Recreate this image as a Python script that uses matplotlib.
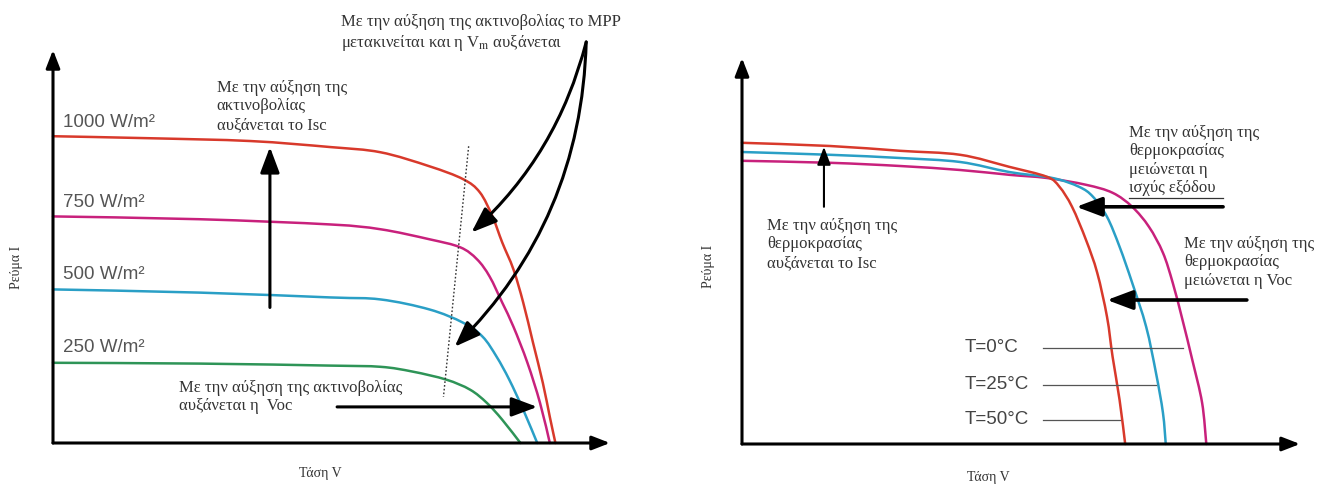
import matplotlib
matplotlib.use("Agg")
import matplotlib.pyplot as plt
from matplotlib.path import Path
from matplotlib.patches import PathPatch

# I-V curves (voltage V, current A)
irr_labels = ["1000 W/m²", "750 W/m²", "500 W/m²", "250 W/m²"]
irr_colors = ["#d8392b", "#c8217c", "#2a9fc6", "#2e9457"]

v_1000 = [0, 6.9, 14.1, 19.8, 23.4, 26.9, 29.3, 30.5, 31.4, 32.1, 32.9, 33.6, 34.3, 35.0, 35.5, 35.9]
i_1000 = [7.65, 7.60, 7.53, 7.38, 7.25, 6.90, 6.58, 6.25, 5.65, 5.00, 4.33, 3.50, 2.50, 1.50, 0.65, 0]
v_750 = [0, 10.5, 19.8, 23.4, 26.9, 29.1, 30.3, 31.2, 32.1, 32.9, 33.9, 34.8, 35.5]
i_750 = [5.65, 5.58, 5.45, 5.33, 5.08, 4.88, 4.58, 4.15, 3.50, 2.90, 2.00, 1.00, 0]
v_500 = [0, 10.5, 19.8, 23.4, 26.9, 29.3, 30.7, 31.7, 32.6, 33.6, 34.6]
i_500 = [3.83, 3.75, 3.63, 3.58, 3.33, 3.00, 2.65, 2.15, 1.58, 0.83, 0]
v_250 = [0, 10.5, 19.8, 23.4, 25.7, 28.1, 29.8, 31.0, 32.1, 33.4]
i_250 = [2.00, 1.98, 1.93, 1.90, 1.78, 1.58, 1.33, 1.00, 0.58, 0]
irr_label_i = [7.98, 6.0, 4.2, 2.38]

temp_labels = ["T=0°C", "T=25°C", "T=50°C"]
temp_colors = ["#c8217c", "#2a9fc6", "#d8392b"]
v_t0 = [0, 6.3, 11.3, 15.6, 19.1, 21.8, 24.6, 26.5, 27.9, 29.1, 30.1, 30.8, 31.5, 32.2, 32.9, 33.2]
i_t0 = [7.08, 7.03, 6.95, 6.85, 6.73, 6.65, 6.48, 6.28, 5.93, 5.43, 4.78, 4.03, 3.10, 2.10, 1.03, 0]
v_t25 = [0, 6.3, 11.3, 15.6, 19.1, 22.2, 24.1, 25.1, 26.1, 27.0, 27.9, 28.9, 29.6, 30.1, 30.3]
i_t25 = [7.30, 7.23, 7.15, 7.05, 6.80, 6.65, 6.43, 6.18, 5.68, 4.93, 4.03, 2.93, 1.78, 0.78, 0]
v_t50 = [0, 6.3, 11.3, 15.6, 19.1, 21.8, 22.7, 23.6, 24.6, 25.4, 26.1, 26.5, 27.0, 27.4]
i_t50 = [7.53, 7.45, 7.33, 7.23, 6.93, 6.68, 6.43, 5.93, 5.10, 4.28, 3.18, 2.18, 1.10, 0]
temp_label_i = [2.4, 1.48, 0.6]
temp_line_end = [31.5, 29.6, 27.0]

serif = ["Liberation Serif", "DejaVu Serif"]
sans = ["Liberation Sans", "DejaVu Sans"]
plt.rcParams["mathtext.fontset"] = "stix"
txt_col = "#333333"
fs = 12

W, H = 1339, 487
fig = plt.figure(figsize=(13.39, 4.87), dpi=100)

# axes placed where the drawn axis lines sit
ax1 = fig.add_axes([53 / W, (H - 443) / H, 557 / W, 393 / H])
ax2 = fig.add_axes([742 / W, (H - 444) / H, 558 / W, 386 / H])
ax1.set_xlim(0, 39.8)
ax1.set_ylim(0, 9.8)
ax2.set_xlim(0, 39.9)
ax2.set_ylim(0, 9.65)


def smooth_curve(ax, v, i, color):
    # draw the read points as a smooth Catmull-Rom style bezier path
    pts = list(zip(v, i))
    ext = [pts[0]] + pts + [pts[-1]]
    verts = [pts[0]]
    codes = [Path.MOVETO]
    for k in range(1, len(ext) - 2):
        p0, p1, p2, p3 = ext[k - 1], ext[k], ext[k + 1], ext[k + 2]
        c1 = (p1[0] + (p2[0] - p0[0]) / 6, p1[1] + (p2[1] - p0[1]) / 6)
        c2 = (p2[0] - (p3[0] - p1[0]) / 6, p2[1] - (p3[1] - p1[1]) / 6)
        verts += [c1, c2, p2]
        codes += [Path.CURVE4] * 3
    ax.add_patch(PathPatch(Path(verts, codes), fill=False, edgecolor=color,
                           lw=1.8, capstyle="round", clip_on=False))


def axis_arrows(ax):
    x1 = ax.get_xlim()[1]
    y1 = ax.get_ylim()[1]
    for tip in [(x1, 0), (0, y1)]:
        ax.annotate("", xy=tip, xytext=(0, 0),
                    arrowprops=dict(arrowstyle="-|>,head_length=0.9,head_width=0.35",
                                    mutation_scale=12, lw=2.2, color="black",
                                    shrinkA=0, shrinkB=0))
    ax.axis("off")


def arrow(ax, start, end, lw=2.2, scale=13, rad=0.0):
    ax.annotate("", xy=end, xytext=start,
                arrowprops=dict(arrowstyle="-|>,head_length=1.2,head_width=0.45",
                                mutation_scale=scale, lw=lw, color="black",
                                shrinkA=0, shrinkB=0,
                                connectionstyle="arc3,rad=%s" % rad))


def note(ax, x, y, s):
    ax.text(x, y, s, family=serif, fontsize=fs, color=txt_col, va="top",
            linespacing=1.2)


# left panel: irradiance
axis_arrows(ax1)
curves = [(v_1000, i_1000), (v_750, i_750), (v_500, i_500), (v_250, i_250)]
for (v, i), col, lab, li in zip(curves, irr_colors, irr_labels, irr_label_i):
    smooth_curve(ax1, v, i, col)
    ax1.text(0.7, li, lab, family=sans, fontsize=13.5, color="#555555", va="center")

ax1.plot([29.7, 27.9], [7.4, 1.15], color="#333333", lw=1.0, ls=(0, (1.2, 1.5)))
arrow(ax1, (15.5, 3.38), (15.5, 7.38))
arrow(ax1, (38.1, 10.0), (29.9, 5.25), rad=-0.15)
arrow(ax1, (38.1, 10.0), (28.7, 2.4), rad=-0.2)
arrow(ax1, (20.3, 0.9), (34.6, 0.9))

note(ax1, 11.7, 9.05, "Με την αύξηση της\nακτινοβολίας\nαυξάνεται το Isc")
note(ax1, 20.6, 10.7, "Με την αύξηση της ακτινοβολίας το MPP\n"
     "μετακινείται και η V$_{\\mathrm{m}}$ αυξάνεται")
note(ax1, 9.0, 1.57, "Με την αύξηση της ακτινοβολίας\nαυξάνεται η  Voc")
ax1.text(-2.6, 4.38, "Ρεύμα I", family=serif, fontsize=10, color=txt_col,
         rotation=90, ha="center", va="center")
ax1.text(19.1, -0.75, "Τάση V", family=serif, fontsize=10, color=txt_col,
         ha="center", va="center")

# right panel: temperature
axis_arrows(ax2)
tcurves = [(v_t0, i_t0), (v_t25, i_t25), (v_t50, i_t50)]
for (v, i), col in zip(tcurves, temp_colors):
    smooth_curve(ax2, v, i, col)
for lab, li, le in zip(temp_labels, temp_label_i, temp_line_end):
    ax2.text(15.9, li, lab, family=sans, fontsize=13.5, color="#444444", va="center")
    ax2.plot([21.5, le], [li, li], color="#555555", lw=0.9)

arrow(ax2, (5.86, 5.93), (5.86, 7.43), lw=1.5, scale=9)
arrow(ax2, (34.4, 5.93), (23.9, 5.93), lw=2.6)
arrow(ax2, (36.1, 3.6), (26.1, 3.6), lw=2.6)
ax2.plot([27.7, 34.4], [6.15, 6.15], color="#333333", lw=0.9)

note(ax2, 1.8, 5.65, "Με την αύξηση της\nθερμοκρασίας\nαυξάνεται το Isc")
note(ax2, 27.7, 7.98, "Με την αύξηση της\nθερμοκρασίας\nμειώνεται η\nισχύς εξόδου")
note(ax2, 31.6, 5.2, "Με την αύξηση της\nθερμοκρασίας\nμειώνεται η Voc")
ax2.text(-2.4, 4.43, "Ρεύμα I", family=serif, fontsize=10, color=txt_col,
         rotation=90, ha="center", va="center")
ax2.text(17.6, -0.83, "Τάση V", family=serif, fontsize=10, color=txt_col,
         ha="center", va="center")

fig.savefig("out.png", dpi=100, facecolor="white")
